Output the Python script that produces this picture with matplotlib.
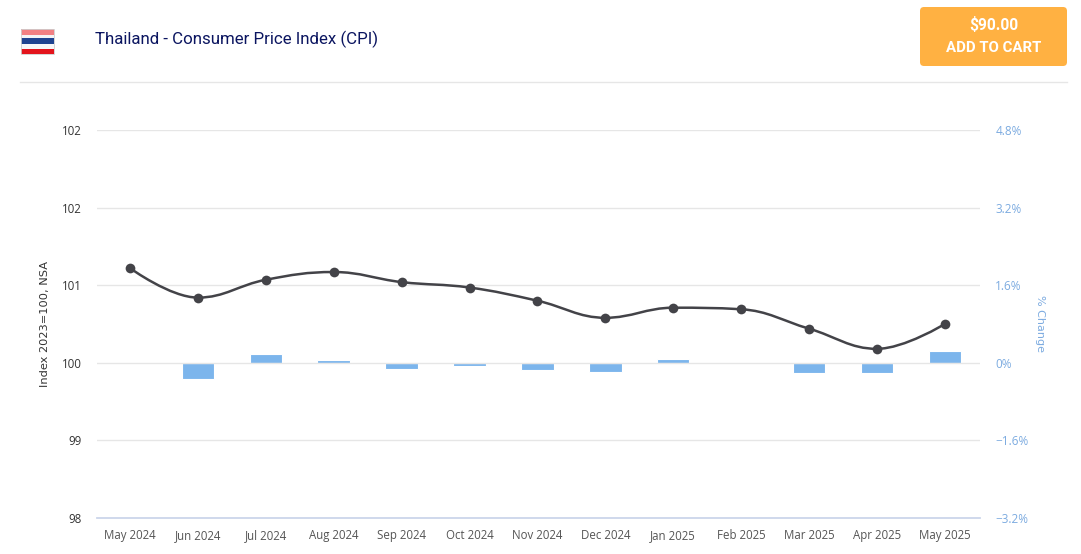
import matplotlib
matplotlib.use("Agg")
import matplotlib.pyplot as plt
from matplotlib.path import Path
from matplotlib.patches import PathPatch, FancyBboxPatch, Rectangle

months = ["May 2024", "Jun 2024", "Jul 2024", "Aug 2024", "Sep 2024", "Oct 2024", "Nov 2024",
          "Dec 2024", "Jan 2025", "Feb 2025", "Mar 2025", "Apr 2025", "May 2025"]
index_values = [101.22, 100.84, 101.07, 101.17, 101.04, 100.97, 100.80,
                100.58, 100.71, 100.69, 100.44, 100.18, 100.50]
pct_change = [None, -0.33, 0.18, 0.05, -0.12, -0.06, -0.14, -0.18, 0.07, -0.01, -0.21, -0.21, 0.24]
left_ticks = [98, 99, 100, 101, 102, 103]
left_labels = ["98", "99", "100", "101", "102", "102"]
right_ticks = [-3.2, -1.6, 0, 1.6, 3.2, 4.8]
right_labels = ["\u22123.2%", "\u22121.6%", "0%", "1.6%", "3.2%", "4.8%"]

W, H = 1081, 554
fig = plt.figure(figsize=(W / 100, H / 100), dpi=100, facecolor="white")
FONT = "Open Sans"

# page-level pixel layer
bg = fig.add_axes([0, 0, 1, 1], zorder=0)
bg.set_xlim(0, W); bg.set_ylim(H, 0); bg.axis("off")
bg.plot([20, 1067], [82, 82], color="#e6e6e6", lw=1)
bg.text(95, 39.5, "Thailand - Consumer Price Index (CPI)", family="Roboto", fontsize=12.15,
        color="#0b1560", va="center", ha="left")
bg.add_patch(FancyBboxPatch((920, 7), 147, 59, boxstyle="round,pad=0,rounding_size=4",
                            fc="#ffb142", ec="none"))
bg.text(993.5, 25.5, "$90.00", family="Roboto", fontsize=11.2, weight="bold", color="white",
        ha="center", va="center", parse_math=False)
bg.text(993.5, 47.5, "ADD TO CART", family="Roboto", fontsize=10.8, weight="bold", color="white",
        ha="center", va="center")
# flag
for y0, h, c in [(29, 6, "#f28083"), (35, 3, "#f4f4f6"), (38, 6, "#1f4390"),
                 (44, 5, "#f7f7f8"), (49, 5, "#e3141c")]:
    bg.add_patch(Rectangle((21, y0), 33, h, fc=c, ec="none"))
bg.add_patch(Rectangle((21, 29), 33, 25, fc="none", ec="#cfcfcf", lw=0.6))

# chart
ax = fig.add_axes([97 / W, 1 - 518 / H, (980 - 97) / W, (518 - 130) / H], zorder=1)
ax.patch.set_alpha(0)
ax.set_xlim(-0.486, 12.518)
ax.set_ylim(98, 103)
ax2 = ax.twinx()
ax2.set_zorder(0)
ax.set_zorder(2)
ax2.set_ylim(-3.2, 4.8)

for s in list(ax.spines.values()) + list(ax2.spines.values()):
    s.set_visible(False)
ax.set_yticks(left_ticks, left_labels, family=FONT, fontsize=8.3, color="#333333")
ax2.set_yticks(right_ticks, right_labels, family=FONT, fontsize=8.5, color="#7cabe0")
ax.set_xticks(range(len(months)), months, family=FONT, fontsize=8.3, color="#555555")
ax.tick_params(axis="x", length=0, pad=15)
ax.tick_params(axis="y", length=0, pad=11)
ax2.tick_params(axis="y", length=0, pad=11)
for lbl in ax.get_xticklabels():
    lbl.set_verticalalignment("baseline")
ax.grid(axis="y", color="#e6e6e6", lw=1)
ax.set_axisbelow(True)
ax.axhline(98, color="#ccd6eb", lw=1.3, zorder=3, clip_on=False)

ax.text(-0.059, 0.501, "Index 2023=100, NSA", transform=ax.transAxes, rotation=90,
        family="DejaVu Sans", fontsize=8.2, color="#333333", va="center", ha="center")
ax2.text(1.0685, 0.501, "% Change", transform=ax2.transAxes, rotation=270,
         family="DejaVu Sans", fontsize=8, color="#7cabe0", va="center", ha="center")

# bars on the secondary axis
bx = [i for i, v in enumerate(pct_change) if v is not None]
bv = [pct_change[i] for i in bx]
ax2.bar(bx, bv, width=0.478, color="#7cb5ec", edgecolor="white", linewidth=0.8, zorder=3)

# spline built from the data values
def spline_path(xs, ys, smoothing=1.5):
    d = smoothing + 1
    verts = [(xs[0], ys[0])]
    codes = [Path.MOVETO]
    rc = (xs[0], ys[0])
    for i in range(1, len(xs)):
        x, y = xs[i], ys[i]
        if i < len(xs) - 1:
            lx = (smoothing * x + xs[i - 1]) / d
            ly = (smoothing * y + ys[i - 1]) / d
            rx = (smoothing * x + xs[i + 1]) / d
            ry = (smoothing * y + ys[i + 1]) / d
            corr = (ry - ly) * (rx - x) / (rx - lx) + y - ry
            ly += corr
            ry += corr
            if ly > max(ys[i - 1], y):
                ly = max(ys[i - 1], y); ry = 2 * y - ly
            elif ly < min(ys[i - 1], y):
                ly = min(ys[i - 1], y); ry = 2 * y - ly
            if ry > max(y, ys[i + 1]):
                ry = max(y, ys[i + 1]); ly = 2 * y - ry
            elif ry < min(y, ys[i + 1]):
                ry = min(y, ys[i + 1]); ly = 2 * y - ry
        else:
            lx, ly, rx, ry = x, y, x, y
        verts += [rc, (lx, ly), (x, y)]
        codes += [Path.CURVE4] * 3
        rc = (rx, ry)
    return Path(verts, codes)

xs = list(range(len(index_values)))
ax.add_patch(PathPatch(spline_path(xs, index_values), fc="none", ec="#434348", lw=1.8, zorder=4))
ax.plot(xs, index_values, ls="none", marker="o", ms=7, color="#434348", mec="none", zorder=5)

fig.savefig("out.png", dpi=100)
